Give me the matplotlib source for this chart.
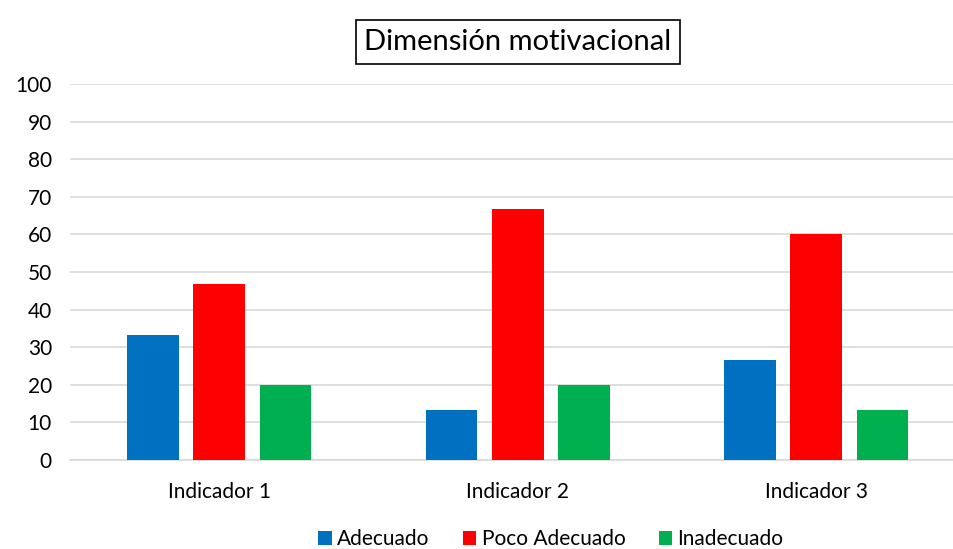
import matplotlib
matplotlib.use("Agg")
import matplotlib.pyplot as plt
import numpy as np

categories = ["Indicador 1", "Indicador 2", "Indicador 3"]
series_names = ["Adecuado", "Poco Adecuado", "Inadecuado"]
adecuado = [33.3, 13.3, 26.7]
poco_adecuado = [46.7, 66.7, 60.0]
inadecuado = [20.0, 20.0, 13.3]
colors = ["#0070C0", "#FF0000", "#00B050"]
yticks = [0, 10, 20, 30, 40, 50, 60, 70, 80, 90, 100]

plt.rcParams['font.family'] = ['Lato', 'DejaVu Sans']

W, H = 954, 549
fig = plt.figure(figsize=(W / 100, H / 100), dpi=100)
ax = fig.add_axes([70 / W, (H - 460) / H, 895.5 / W, 376 / H])

x = np.arange(len(categories))
width = 0.174
step = 0.222
for i, (vals, name, c) in enumerate(zip([adecuado, poco_adecuado, inadecuado], series_names, colors)):
    ax.bar(x + (i - 1) * step, vals, width, color=c, label=name, zorder=3)

ax.set_xlim(-0.5, 2.5)
ax.set_ylim(0, 100)
ax.set_yticks(yticks)
ax.set_yticklabels([str(v) for v in yticks], fontsize=15)
ax.set_xticks(x)
ax.set_xticklabels(categories, fontsize=15)
ax.tick_params(axis='both', length=0)
ax.tick_params(axis='x', pad=16)
ax.tick_params(axis='y', pad=13)
ax.grid(axis='y', color='#d9d9d9', linewidth=1.2, zorder=0)
for s in ['top', 'right', 'left']:
    ax.spines[s].set_visible(False)
ax.spines['bottom'].set_color('#d9d9d9')
ax.spines['bottom'].set_linewidth(1.2)

fig.text(518 / W, 1 - 42 / H, "Dimensión motivacional", fontsize=21, ha='center', va='center',
         bbox=dict(boxstyle='square,pad=0.3', facecolor='white', edgecolor='black', linewidth=1.2))

fig.legend(loc='center', bbox_to_anchor=(551 / W, 1 - 539 / H), ncol=3, frameon=False,
           fontsize=15, handlelength=0.65, handleheight=0.65, handletextpad=0.25, columnspacing=1.6)

fig.savefig("out.png", dpi=100)
